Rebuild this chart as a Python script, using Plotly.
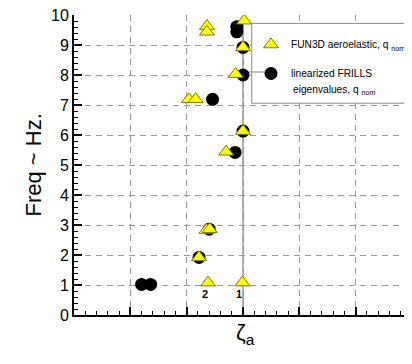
import plotly.graph_objects as go

# FUN3D aeroelastic (triangles)
fun3d_zeta = [0.02, -0.64, -0.64, 0.0, -0.13, -0.96, -0.84, 0.0, -0.30, -0.65, -0.59, -0.78, -0.62, -0.01]
fun3d_freq = [9.81, 9.63, 9.44, 8.92, 8.03, 7.19, 7.19, 6.13, 5.44, 2.83, 2.86, 1.92, 1.08, 1.08]

# linearized FRILLS eigenvalues (circles)
frills_zeta = [-0.11, -0.11, 0.0, 0.0, -0.54, 0.0, -0.14, -0.60, -0.78, -1.80, -1.64]
frills_freq = [9.61, 9.44, 8.92, 8.0, 7.19, 6.13, 5.42, 2.86, 1.92, 1.02, 1.02]

mode_labels = ["2", "1"]
mode_label_x = [-0.67, -0.07]
mode_label_y = [0.69, 0.69]

FONT = "Liberation Sans, Arial, sans-serif"

# page body has an 8px default margin: shift everything up/left by 8px
OFF = 8
L, T = 74 - OFF, 15 - OFF
PW, PH = 338, 300
W, H = 412 - OFF, 364 - OFF


def px_x(px):
    return (px - OFF - L) / PW


def px_y(py):
    return (T + PH - (py - OFF)) / PH


fig = go.Figure()
fig.add_trace(go.Scatter(
    x=frills_zeta, y=frills_freq, mode="markers", legendgroup="b", legendrank=2,
    name="linearized FRILLS",
    marker=dict(symbol="circle", size=13, color="black", line=dict(width=0)),
))
fig.add_trace(go.Scatter(
    x=fun3d_zeta, y=fun3d_freq, mode="markers", legendgroup="a", legendrank=1,
    name="FUN3D aeroelastic, q <sub>nom</sub>",
    marker=dict(symbol="triangle-up", size=13, color="#FFFF00",
                line=dict(width=1, color="#7A7A00")),
))

# vertical reference line
fig.add_shape(type="line", x0=0, x1=0, y0=0, y1=9.8, xref="x", yref="y",
              line=dict(color="#999999", width=1.5), layer="between")
# legend box
fig.add_shape(type="rect", x0=0.155, x1=3.3, y0=7.06, y1=9.72, xref="x", yref="y",
              line=dict(color="#888888", width=1), fillcolor="white", layer="between")
# connector line
fig.add_shape(type="line", x0=0, x1=0.5, y0=8.1, y1=8.1, xref="x", yref="y",
              line=dict(color="#999999", width=1.2), layer="between")

for t, xx, yy in zip(mode_labels, mode_label_x, mode_label_y):
    fig.add_annotation(x=xx, y=yy, text="<b>" + t + "</b>", showarrow=False,
                       font=dict(size=11, color="black", family=FONT))

# second line of the FRILLS legend entry
fig.add_annotation(x=px_x(291), y=px_y(90), xref="paper", yref="paper",
                   xanchor="left", yanchor="middle",
                   text="eigenvalues, q <sub>nom</sub>", showarrow=False,
                   font=dict(size=10.2, color="black", family=FONT))

fig.add_annotation(x=px_x(18), y=px_y(165), xref="paper", yref="paper",
                   text="Freq ~ Hz.", textangle=-90, showarrow=False,
                   font=dict(size=22, color="black", family=FONT))
fig.add_annotation(x=px_x(245), y=px_y(350), xref="paper", yref="paper",
                   text="ζ<sub>a</sub>", showarrow=False,
                   font=dict(size=22, color="black", family=FONT))

axis_common = dict(
    ticks="inside", ticklen=8, tickwidth=1.5, tickcolor="black",
    showline=True, linecolor="black", linewidth=2, mirror=False,
    showgrid=True, gridcolor="#999999", gridwidth=1, griddash="6px,5px",
    zeroline=False, ticklabeloverflow="allow",
)
fig.update_xaxes(range=[-3, 3], tick0=0, dtick=1, showticklabels=False,
                 minor=dict(dtick=0.2, ticklen=4, ticks="inside", tickcolor="black",
                            tickwidth=1, showgrid=False),
                 **axis_common)
fig.update_yaxes(range=[0, 10], tick0=0, dtick=1,
                 tickfont=dict(size=16, color="black", family=FONT),
                 minor=dict(dtick=0.2, ticklen=4, ticks="inside", tickcolor="black",
                            tickwidth=1, showgrid=False),
                 **axis_common)

fig.update_layout(
    width=W, height=H,
    margin=dict(l=L, r=W - L - PW, t=T, b=H - T - PH, autoexpand=False),
    plot_bgcolor="white", paper_bgcolor="white",
    font=dict(family=FONT, color="black"),
    legend=dict(x=px_x(251), y=px_y(30), xanchor="left", yanchor="top",
                bgcolor="rgba(0,0,0,0)", borderwidth=0, traceorder="grouped",
                font=dict(size=10.2, family=FONT, color="black"), tracegroupgap=10),
    showlegend=True,
)

fig.write_html("out.html")
